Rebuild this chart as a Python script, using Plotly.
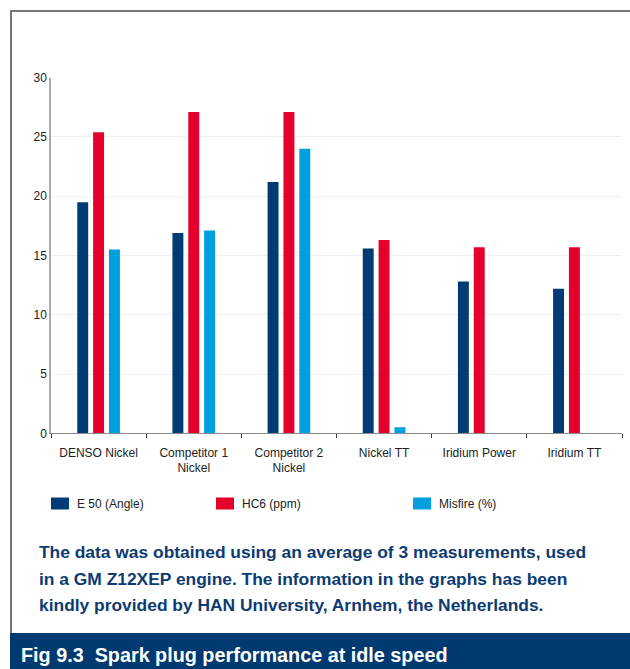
import plotly.graph_objects as go

categories = ["DENSO Nickel", "Competitor 1<br>Nickel", "Competitor 2<br>Nickel",
              "Nickel TT", "Iridium Power", "Iridium TT"]
e50_angle = [19.5, 16.9, 21.2, 15.6, 12.8, 12.2]
hc6_ppm = [25.4, 27.1, 27.1, 16.3, 15.7, 15.7]
misfire_pct = [15.5, 17.1, 24.0, 0.5, 0, 0]
series_names = ["E 50 (Angle)", "HC6 (ppm)", "Misfire (%)"]
series_colors = ["#003b75", "#e4002b", "#009fe0"]
y_ticks = [0, 5, 10, 15, 20, 25, 30]

caption_lines = [
    "The data was obtained using an average of 3 measurements, used",
    "in a GM Z12XEP engine. The information in the graphs has been",
    "kindly provided by HAN University, Arnhem, the Netherlands.",
]
fig_title = "Fig 9.3\u00a0 Spark plug performance at idle speed"

W, H = 630, 669
def px(x):
    return x / W
def py(y):
    return 1 - y / H

fig = go.Figure()
for name, vals, col in zip(series_names, [e50_angle, hc6_ppm, misfire_pct], series_colors):
    fig.add_trace(go.Bar(x=categories, y=vals, name=name, marker_color=col,
                         marker_line_width=0, showlegend=False))

shapes = []
annotations = []
# outer frame
shapes.append(dict(type="rect", xref="paper", yref="paper",
                   x0=px(11), x1=px(645), y0=py(640), y1=py(11),
                   line=dict(color="#777777", width=2), fillcolor="rgba(0,0,0,0)", layer="below"))
# caption bar
shapes.append(dict(type="rect", xref="paper", yref="paper",
                   x0=px(10), x1=px(640), y0=py(675), y1=py(633),
                   line=dict(width=0), fillcolor="#003a70"))

# legend
leg_x = [51, 216, 413]
for lx, name, col in zip(leg_x, series_names, series_colors):
    shapes.append(dict(type="rect", xref="paper", yref="paper",
                       x0=px(lx), x1=px(lx + 18), y0=py(509.5), y1=py(497.5),
                       line=dict(width=0), fillcolor=col))
    annotations.append(dict(xref="paper", yref="paper", x=px(lx + 24), y=py(504),
                            xanchor="left", yanchor="middle", showarrow=False,
                            text=name, font=dict(family="Liberation Sans, Arial", size=12, color="#222222")))

for i, line in enumerate(caption_lines):
    annotations.append(dict(xref="paper", yref="paper", x=px(37), y=py(552 + 26.5 * i),
                            xanchor="left", yanchor="middle", showarrow=False, text=f"<b>{line}</b>",
                            font=dict(family="Liberation Sans, Arial", size=17.4, color="#0d3b72")))

annotations.append(dict(xref="paper", yref="paper", x=px(19), y=py(655),
                        xanchor="left", yanchor="middle", showarrow=False, text=f"<b>{fig_title}</b>",
                        font=dict(family="Liberation Sans, Arial", size=19.8, color="#ffffff")))

fig.update_layout(
    width=W, height=H,
    margin=dict(l=0, r=0, t=0, b=0, autoexpand=False),
    paper_bgcolor="#ffffff", plot_bgcolor="#ffffff",
    barmode="group", bargap=0.5, bargroupgap=0.31,
    shapes=shapes, annotations=annotations,
    showlegend=False,
    xaxis=dict(domain=[px(51), px(622)], showline=True, linecolor="#8a8a8a", linewidth=1,
               ticks="outside", tickson="boundaries", ticklen=4, tickcolor="#333333",
               ticklabelstandoff=8,
               tickfont=dict(family="Liberation Sans, Arial", size=12, color="#222222"),
               showgrid=False, fixedrange=True),
    yaxis=dict(domain=[py(433.3), py(77.7)], range=[0, 30], tickvals=y_ticks,
               showline=True, linecolor="#aaaaaa", linewidth=1.5, ticks="",
               gridcolor="#efefef", gridwidth=1, zeroline=False,
               tickfont=dict(family="Liberation Sans, Arial", size=12, color="#222222"),
               fixedrange=True),
    font=dict(family="Liberation Sans, Arial"),
)

fig.write_html("out.html", config={"displayModeBar": False},
               post_script="document.body.style.margin='0';")
